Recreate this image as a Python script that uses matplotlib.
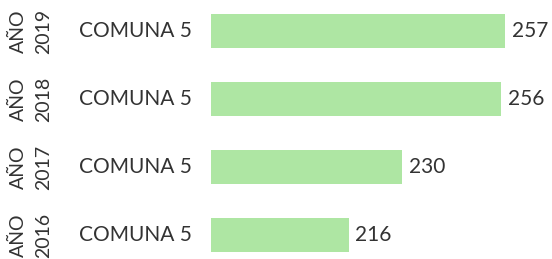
import matplotlib
matplotlib.use('Agg')
import matplotlib.pyplot as plt
import matplotlib.transforms as mtransforms

# Data, top to bottom.
YEARS = ['2019', '2018', '2017', '2016']
LABELS = ['COMUNA 5', 'COMUNA 5', 'COMUNA 5', 'COMUNA 5']
VALUES = [257, 256, 230, 216]

BAR_COLOR = '#aee6a3'
TEXT_COLOR = '#333333'
FONT = 'Lato'

FIG = plt.figure(figsize=(5.52, 2.59), dpi=100)
AX = FIG.add_axes([211 / 552, 0, 341 / 552, 1])

pos = list(range(len(VALUES)))
AX.barh(pos, [v - 180 for v in VALUES], left=180, height=0.5,
        color=BAR_COLOR, edgecolor='none')

AX.set_xlim(180, 180 + 341 / 3.82)
AX.set_ylim((259 - 31) / 68, -31 / 68)
AX.axis('off')

# Labels left of the bars.
TRANS = mtransforms.blended_transform_factory(FIG.transFigure, AX.transData)
for i, (yr, lab, val) in enumerate(zip(YEARS, LABELS, VALUES)):
    AX.text(31 / 552, i, 'AÑO\n' + yr, transform=TRANS, rotation=90,
            ha='center', va='center', multialignment='center',
            fontsize=14, color=TEXT_COLOR, family=FONT,
            linespacing=1.55, clip_on=False)
    AX.text(79 / 552, i, lab, transform=TRANS, ha='left', va='center',
            fontsize=15, color=TEXT_COLOR, family=FONT, clip_on=False)
    AX.text(val + 1.8, i, str(val), ha='left', va='center',
            fontsize=15, color=TEXT_COLOR, family=FONT, clip_on=False)

plt.savefig('out.png', dpi=100)
